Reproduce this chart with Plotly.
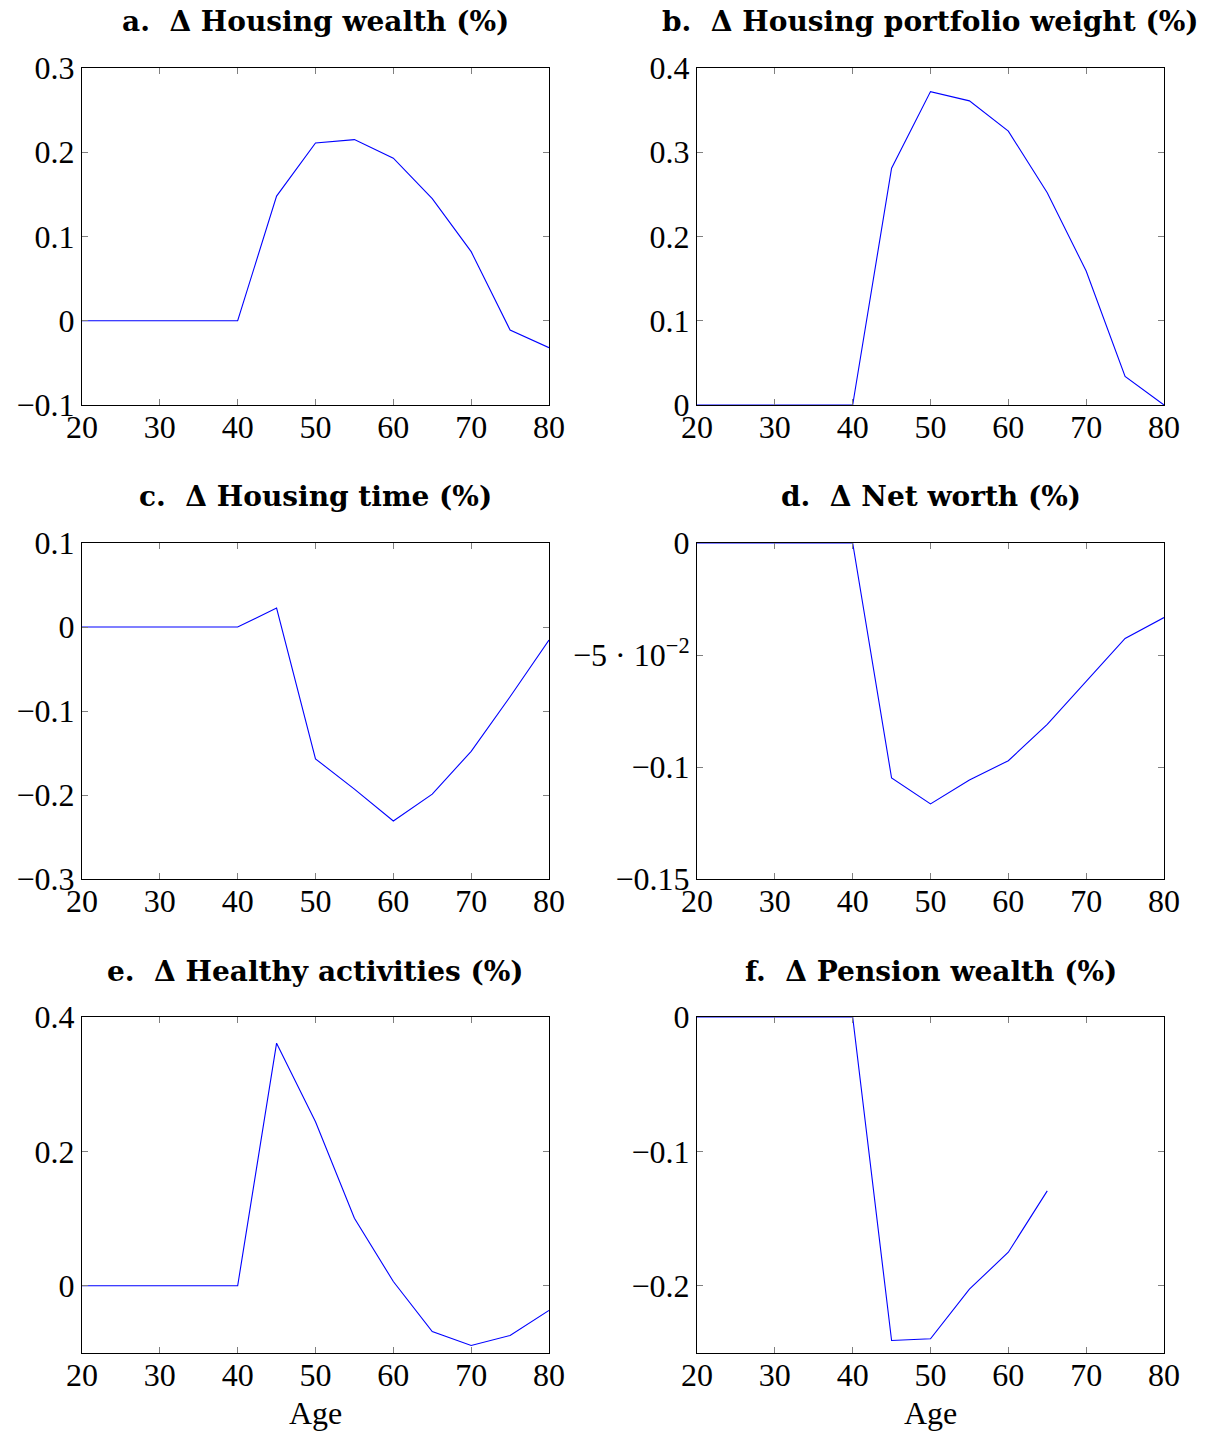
import plotly.graph_objects as go

ages = [20, 25, 30, 35, 40, 45, 50, 55, 60, 65, 70, 75, 80]

housing_wealth = [0, 0, 0, 0, 0, 0.148, 0.211, 0.215, 0.193, 0.145, 0.082, -0.011, -0.032]
housing_weight = [0, 0, 0, 0, 0, 0.281, 0.372, 0.361, 0.325, 0.252, 0.159, 0.034, 0.0]
housing_time = [0, 0, 0, 0, 0, 0.0226, -0.157, -0.193, -0.231, -0.199, -0.148, -0.083, -0.0155]
net_worth = [0, 0, 0, 0, 0, -0.1049, -0.1165, -0.1058, -0.0972, -0.081, -0.0619, -0.0426, -0.0333]
healthy_act = [0, 0, 0, 0, 0, 0.361, 0.244, 0.1006, 0.0064, -0.068, -0.0887, -0.0739, -0.0367]
pension_wealth = [0, 0, 0, 0, 0, -0.2407, -0.2394, -0.2025, -0.175, -0.1294, None, None, None]

titles = [
    "a.  Δ Housing wealth (%)",
    "b.  Δ Housing portfolio weight (%)",
    "c.  Δ Housing time (%)",
    "d.  Δ Net worth (%)",
    "e.  Δ Healthy activities (%)",
    "f.  Δ Pension wealth (%)",
]
series = [housing_wealth, housing_weight, housing_time, net_worth, healthy_act, pension_wealth]

x_ticks = [20, 30, 40, 50, 60, 70, 80]
x_ticktext = ["20", "30", "40", "50", "60", "70", "80"]

y_ranges = [[-0.1, 0.3], [0, 0.4], [-0.3, 0.1], [-0.15, 0], [-0.1, 0.4], [-0.25, 0]]
y_tickvals = [
    [-0.1, 0, 0.1, 0.2, 0.3],
    [0, 0.1, 0.2, 0.3, 0.4],
    [-0.3, -0.2, -0.1, 0, 0.1],
    [-0.15, -0.1, -0.05, 0],
    [0, 0.2, 0.4],
    [-0.2, -0.1, 0],
]
y_ticktext = [
    ["−0.1", "0", "0.1", "0.2", "0.3"],
    ["0", "0.1", "0.2", "0.3", "0.4"],
    ["−0.3", "−0.2", "−0.1", "0", "0.1"],
    ["−0.15", "−0.1", "−5 · 10<sup>−2</sup>", "0"],
    ["0", "0.2", "0.4"],
    ["−0.2", "−0.1", "0"],
]

W, H = 1206, 1434
col_px = [(82, 549), (697, 1164)]
row_px = [(68, 405), (543, 879), (1017, 1353)]

FONT = "Liberation Serif, Times New Roman, serif"
TITLE_FONT = "DejaVu Serif, serif"
fig = go.Figure()

layout = dict(
    template="none",
    width=W, height=H,
    margin=dict(l=0, r=0, t=0, b=0, autoexpand=False),
    paper_bgcolor="white", plot_bgcolor="white",
    showlegend=False,
    font=dict(family=FONT, size=32, color="black"),
)
annotations = []

for i in range(6):
    r, c = divmod(i, 2)
    x0, x1 = col_px[c]
    y0, y1 = row_px[r]
    xa = "xaxis" if i == 0 else f"xaxis{i+1}"
    ya = "yaxis" if i == 0 else f"yaxis{i+1}"
    xref = "x" if i == 0 else f"x{i+1}"
    yref = "y" if i == 0 else f"y{i+1}"
    fig.add_trace(go.Scatter(
        x=ages, y=series[i], mode="lines",
        line=dict(color="#0000ff", width=1.1),
        xaxis=xref, yaxis=yref, connectgaps=False,
    ))
    common = dict(
        showline=True, linecolor="black", linewidth=1, mirror="allticks",
        ticks="inside", ticklen=6, tickcolor="#808080", tickwidth=1,
        showgrid=False, zeroline=False, automargin=False,
        tickfont=dict(family=FONT, size=32, color="black"),
    )
    layout[xa] = dict(
        domain=[x0 / W, x1 / W], anchor=yref, range=[20, 80],
        tickvals=x_ticks, ticktext=x_ticktext, ticklabelstandoff=-6, **common,
    )
    layout[ya] = dict(
        domain=[1 - y1 / H, 1 - y0 / H], anchor=xref, range=y_ranges[i],
        tickvals=y_tickvals[i], ticktext=y_ticktext[i], **common,
    )
    annotations.append(dict(
        text="<b>" + titles[i] + "</b>", xref="paper", yref="paper",
        x=(x0 + x1) / 2 / W, y=1 - (y0 - 46) / H, xanchor="center", yanchor="middle",
        showarrow=False, font=dict(family=TITLE_FONT, size=28, color="black"),
    ))
    if r == 2:
        annotations.append(dict(
            text="Age", xref="paper", yref="paper",
            x=(x0 + x1) / 2 / W, y=1 - 1413 / H, xanchor="center", yanchor="middle",
            showarrow=False, font=dict(family=FONT, size=32, color="black"),
        ))

layout["annotations"] = annotations
fig.update_layout(**layout)
fig.write_html("out.html")
